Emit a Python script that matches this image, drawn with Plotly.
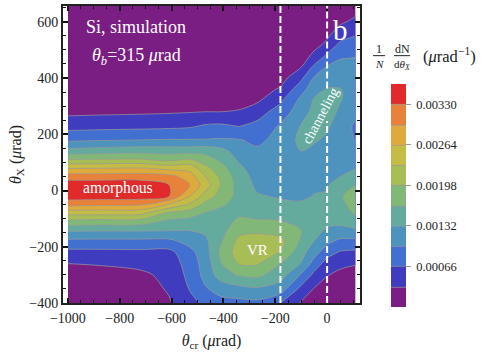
import plotly.graph_objects as go

# angles (urad)
theta_cr = [-1000, -880, -720, -610, -530, -470, -410, -340, -270, -180, -100, -50, 0, 50, 110]
theta_x = [660, 600, 560, 520, 470, 440, 400, 360, 330, 280, 230, 180, 140, 110, 80, 50, 20, -20, -50, -80, -110, -140, -180, -220, -260, -300, -350, -400]

# one list per theta_cr column, same order as theta_x, in colorbar steps (0.00033 urad^-1)
col_m1000 = [.1, .1, .1, .1, .12, .15, .17, .25, .5, .75, 1.6, 2.8, 4.35, 6.0, 7.9, 9.5, 10.6, 10.6, 9.3, 7.4, 5.7, 4.2, 2.75, 1.7, 1.0, .7, .4, .2]
col_m880 = [.1, .1, .1, .1, .12, .15, .17, .25, .5, .8, 1.65, 2.9, 4.5, 6.05, 7.95, 9.5, 10.6, 10.55, 9.2, 7.35, 5.6, 4.15, 2.75, 1.72, 1.05, .75, .45, .25]
col_m720 = [.1, .1, .1, .1, .13, .15, .2, .3, .55, .85, 1.7, 3.0, 4.65, 6.1, 8.0, 9.55, 10.55, 10.5, 9.15, 7.3, 5.55, 4.15, 2.75, 1.75, 1.2, .85, .55, .3]
col_m610 = [.1, .1, .1, .1, .13, .15, .2, .3, .6, .9, 1.75, 3.05, 4.6, 5.7, 7.6, 9.35, 10.0, 10.05, 7.9, 5.8, 4.75, 4.1, 2.75, 1.7, 1.4, 1.2, 1.1, .9]
col_m530 = [.1, .1, .1, .1, .13, .15, .22, .35, .65, .95, 1.85, 3.05, 4.6, 6.1, 7.6, 8.5, 9.0, 8.0, 6.85, 5.5, 4.6, 4.05, 3.35, 2.7, 2.45, 2.3, 2.05, 1.7]
col_m470 = [.1, .1, .1, .1, .13, .15, .22, .35, .7, 1.0, 2.1, 3.05, 4.65, 5.5, 6.3, 7.0, 7.5, 6.6, 5.7, 4.95, 4.6, 4.2, 3.8, 3.55, 3.4, 3.3, 2.9, 2.2]
col_m410 = [.1, .1, .1, .1, .15, .2, .25, .4, .7, 1.0, 2.15, 3.1, 4.35, 4.8, 5.4, 5.8, 5.95, 5.6, 5.1, 4.8, 4.65, 4.6, 4.9, 5.2, 4.95, 4.5, 3.35, 2.7]
col_m340 = [.1, .1, .1, .12, .18, .22, .3, .45, .7, 1.05, 1.95, 3.05, 3.55, 3.85, 4.2, 4.45, 4.6, 4.7, 4.75, 4.85, 5.15, 5.7, 6.25, 6.5, 6.05, 5.1, 3.65, 2.7]
col_m270 = [.1, .12, .15, .2, .3, .35, .5, .6, .7, 1.5, 2.3, 2.8, 3.15, 3.3, 3.5, 3.65, 3.8, 4.1, 4.3, 4.7, 5.1, 5.8, 6.4, 6.6, 6.1, 5.25, 3.85, 2.75]
col_m180 = [.1, .12, .15, .2, .3, .4, .6, 1.1, 1.65, 2.5, 3.1, 3.3, 3.4, 3.5, 3.55, 3.6, 3.7, 3.9, 4.2, 4.6, 5.05, 5.55, 6.3, 5.95, 5.0, 4.45, 3.5, 2.0]
col_m100 = [.15, .2, .25, .35, .55, .95, 1.8, 2.6, 3.15, 3.5, 4.05, 4.25, 4.0, 3.75, 3.65, 3.6, 3.6, 3.8, 4.15, 4.4, 4.7, 5.0, 4.85, 4.35, 3.95, 2.9, 1.7, .9]
col_m50 = [.2, .3, .4, .65, 1.4, 2.2, 3.1, 3.65, 4.0, 4.3, 4.5, 4.1, 3.8, 3.7, 3.65, 3.65, 3.8, 4.05, 4.3, 4.45, 4.45, 4.3, 4.0, 3.4, 2.6, 1.75, .95, .5]
col_0 = [.25, .4, .75, 1.2, 2.4, 3.05, 3.5, 4.05, 4.3, 4.4, 4.15, 3.85, 3.7, 3.65, 3.65, 3.7, 3.9, 4.1, 4.2, 4.3, 4.2, 3.9, 3.25, 2.45, 1.55, 1.05, .6, .3]
col_p50 = [.45, .85, 1.4, 2.2, 2.97, 3.2, 3.55, 4.05, 4.1, 3.85, 3.5, 3.55, 3.6, 3.7, 3.8, 3.97, 4.5, 4.9, 4.8, 4.6, 4.25, 3.75, 2.8, 1.9, 1.2, .8, .4, .2]
col_p110 = [.55, 1.2, 1.85, 2.4, 3.03, 3.25, 3.4, 3.5, 3.5, 3.3, 2.85, 2.95, 3.3, 3.6, 3.97, 4.4, 5.0, 5.4, 5.3, 5.1, 4.6, 3.9, 2.75, 1.8, 1.05, .7, .35, .15]

columns = [col_m1000, col_m880, col_m720, col_m610, col_m530, col_m470, col_m410, col_m340,
           col_m270, col_m180, col_m100, col_m50, col_0, col_p50, col_p110]

step = 0.00033
z = [[v * step for v in col] for col in columns]

band_colors = ["#7a1e84", "#3f3cc0", "#4270d0", "#4e93be", "#64ab9e", "#82b877",
               "#a8bd56", "#c5bc45", "#dfaa3c", "#e8823a", "#e02b2a"]
colorbar_ticks = [0.00066, 0.00132, 0.00198, 0.00264, 0.00330]
colorbar_labels = ["\u00a00.00066", "\u00a00.00132", "\u00a00.00198", "\u00a00.00264", "\u00a00.00330"]

W, H = 482, 356
L, R, T, B = 63, 360, 4, 303
serif = "Liberation Serif"

# stepped scale so each band keeps its own colour
scale = []
for i, c in enumerate(band_colors):
    scale.append([i / len(band_colors), c])
    scale.append([(i + 1) / len(band_colors), c])


def px(x):
    return (x - L) / (R - L)


def py(y):
    return 1 - (y - T) / (B - T)


fig = go.Figure(go.Contour(
    x=theta_cr, y=theta_x, z=z, transpose=True,
    zauto=False, zmin=0, zmax=step * 11,
    autocontour=False,
    contours=dict(start=step, end=step * 10, size=step, coloring="fill"),
    line=dict(color="#9a9a9a", width=0.7, smoothing=0.9),
    colorscale=scale,
    hoverinfo="skip",
    colorbar=dict(
        xref="paper", yref="paper", x=px(391), xanchor="left",
        y=py(307), yanchor="bottom", len=225 / (B - T), lenmode="fraction",
        thickness=15, thicknessmode="pixels", xpad=0, ypad=0,
        outlinewidth=0, borderwidth=0,
        tickmode="array", tickvals=colorbar_ticks, ticktext=colorbar_labels,
        ticks="outside", ticklen=5, tickwidth=1, tickcolor="#999999",
        tickfont=dict(family=serif, size=12.5, color="#222222"),
    ),
))


def label(x, y, text, size, color="white", angle=0):
    fig.add_annotation(x=px(x), y=py(y), xref="paper", yref="paper", text=text, showarrow=False,
                       font=dict(family=serif, size=size, color=color), textangle=angle,
                       xanchor="center", yanchor="middle")


label(136, 25, "Si, simulation", 18)
label(136, 55, "<i>θ<sub>b</sub></i>=315 <i>μ</i>rad", 18)
label(118, 187, "amorphous", 15.7)
label(257, 250, "VR", 15)
label(320, 115, "channeling", 14, angle=-62)
label(340, 28, "b", 29)

label(379, 47, "1", 12, "#222222")
label(379, 62, "<i>N</i>", 11, "#222222")
label(402, 47, "dN", 12, "#222222")
label(402, 63, "d<i>θ<sub>X</sub></i>", 11, "#222222")
label(449, 54, "(<i>μ</i>rad<sup>−1</sup>)", 16.5, "#222222")

for x0, x1 in [(373, 385), (394, 410)]:
    fig.add_shape(type="line", xref="paper", yref="paper", x0=px(x0), x1=px(x1), y0=py(54), y1=py(54),
                  line=dict(color="#222222", width=1))

# vertical cuts, the one at 0 stops around the channeling label
fig.add_shape(type="line", xref="x", yref="y", x0=-180, x1=-180, y0=-400, y1=656,
              line=dict(color="white", width=2, dash="7px,3px"))
fig.add_shape(type="line", xref="x", yref="y", x0=0, x1=0, y0=363, y1=656,
              line=dict(color="white", width=2, dash="7px,3px"))
fig.add_shape(type="line", xref="x", yref="y", x0=0, x1=0, y0=-400, y1=247,
              line=dict(color="white", width=2, dash="7px,3px"))

axis_style = dict(
    showgrid=False, zeroline=False, showline=True, linecolor="#222222", linewidth=2,
    mirror="ticks", ticks="inside", ticklen=5, tickwidth=1.5, tickcolor="#111111",
    tickfont=dict(family=serif, size=14, color="#222222"), dtick=200,
    minor=dict(dtick=50, ticks="inside", ticklen=3, tickwidth=1, tickcolor="#111111"),
)

fig.update_xaxes(range=[-1019, 127], tick0=-1000, ticklabelstandoff=1,
                 title=dict(text="<i>θ</i><sub>cr</sub> (<i>μ</i>rad)", standoff=10,
                            font=dict(family=serif, size=16, color="#222222")),
                 **axis_style)
fig.update_yaxes(range=[-400, 656], tick0=-400,
                 title=dict(text="<i>θ</i><sub>X</sub> (<i>μ</i>rad)", standoff=4,
                            font=dict(family=serif, size=16, color="#222222")),
                 **axis_style)

fig.update_layout(
    width=W, height=H, autosize=False,
    margin=dict(l=L, r=W - R, t=T, b=H - B, pad=0),
    paper_bgcolor="white", plot_bgcolor="white",
    showlegend=False,
)

fig.write_html("out.html", config={"displayModeBar": False},
               post_script="document.body.style.margin='0';")
